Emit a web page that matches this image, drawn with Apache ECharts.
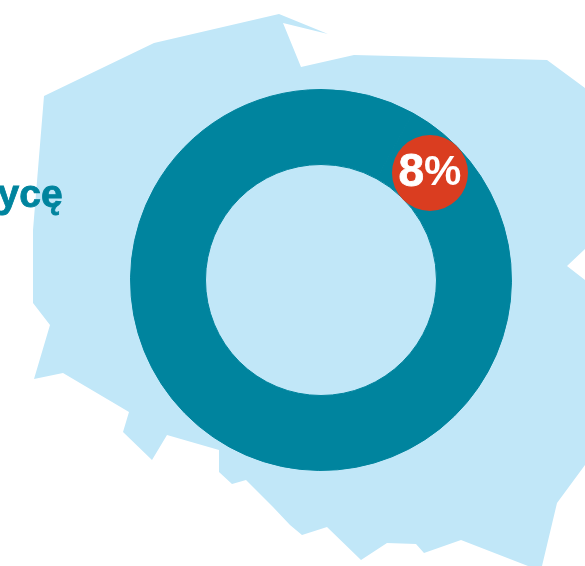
<!DOCTYPE html>
<html>
<head>
<meta charset="utf-8">
<style>html,body{margin:0;padding:0;background:#fff}#chart{width:585px;height:566px}</style>
<script src="https://cdn.jsdelivr.net/npm/echarts@6/dist/echarts.min.js"></script>
</head>
<body>
<div id="chart"></div>
<script>
// Share shown on the ring and in the badge
const shareValue = 8;
const ringValues = [shareValue, 100 - shareValue];
const headingFragment = 'zycę';

// Outline of Poland, in plot units
const outline = [
  [44,96],[154,43],[279,14],[328,34],[283,23],[301,67],[354,55],[547,60],[585,88],[600,98],
  [600,236],[585,249],[567,266],[585,280],[600,291],[600,445],[585,465],[557,503],[542,566],
  [528,566],[461,540],[424,553],[416,544],[387,543],[361,560],[327,527],[302,535],[290,525],
  [273,507],[246,480],[232,484],[219,472],[219,450],[167,435],[152,460],[123,432],[129,412],
  [63,373],[34,379],[50,325],[33,303],[33,230]
];
const badgePosition = [[430,173]];

const mapColor = '#C1E7F8';
const ringColor = '#00849E';
const badgeColor = '#DA3D20';

const chart = echarts.init(document.getElementById('chart'), null, {renderer:'canvas'});
chart.setOption({
  animation:false,
  backgroundColor:'#fff',
  grid:{left:0,right:0,top:0,bottom:0},
  xAxis:{type:'value',min:0,max:585,show:false},
  yAxis:{type:'value',min:0,max:566,inverse:true,show:false},
  graphic:[{
    type:'text',
    z:10,
    right:522,
    top:176,
    style:{
      text:headingFragment,
      font:'bold 39px "Liberation Sans Narrow","Liberation Sans",sans-serif',
      fill:ringColor,
      stroke:ringColor,
      lineWidth:0.8
    }
  }],
  series:[
    {
      type:'custom',
      coordinateSystem:'cartesian2d',
      z:1,
      silent:true,
      clip:true,
      data:[0],
      renderItem:function(params, api){
        return {
          type:'polygon',
          shape:{points:outline.map(function(p){return api.coord(p);})},
          style:{fill:mapColor}
        };
      }
    },
    {
      type:'pie',
      z:2,
      silent:true,
      center:[321,280],
      radius:[115.5,190.5],
      startAngle:90,
      label:{show:false},
      labelLine:{show:false},
      // The border closes the hairline seam between the two sectors
      itemStyle:{color:ringColor,borderColor:ringColor,borderWidth:1},
      data:ringValues
    },
    {
      type:'scatter',
      z:3,
      silent:true,
      symbol:'circle',
      symbolSize:76,
      itemStyle:{color:badgeColor,opacity:1},
      label:{
        show:true,
        position:'inside',
        formatter:function(){ return '{num|' + shareValue + '}{pct|%}'; },
        rich:{
          num:{color:'#fff',fontFamily:'"Liberation Sans",sans-serif',fontWeight:'bold',fontSize:46,
               textBorderColor:'#fff',textBorderWidth:0.8},
          pct:{color:'#fff',fontFamily:'"Liberation Sans Narrow","Liberation Sans",sans-serif',fontWeight:'bold',fontSize:42}
        }
      },
      data:badgePosition
    }
  ]
});
</script>
</body>
</html>
